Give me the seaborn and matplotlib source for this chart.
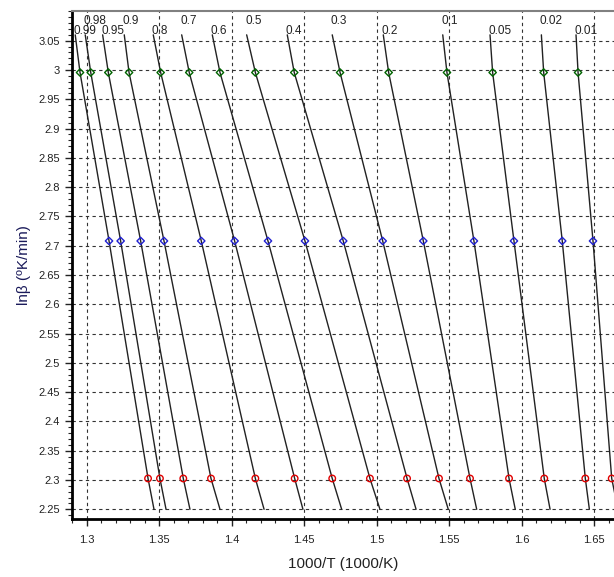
import numpy as np
import pandas as pd
import matplotlib
matplotlib.use('Agg')
import matplotlib.pyplot as plt
from matplotlib.ticker import MultipleLocator
import seaborn as sns

# Conversion levels (labels of the iso-conversion lines)
conversions = ['0.99', '0.98', '0.95', '0.9', '0.8', '0.7', '0.6', '0.5',
               '0.4', '0.3', '0.2', '0.1', '0.05', '0.02', '0.01']

# ln(beta) of the three heating rates (20, 15, 10 K/min)
ln_beta = [2.9957, 2.7081, 2.3026]

# 1000/T read at each heating rate
x_green = [1.2954, 1.3028, 1.3149, 1.3292, 1.3510, 1.3707, 1.3919, 1.4163,
           1.4431, 1.4747, 1.5082, 1.5484, 1.5799, 1.6151, 1.6388]
x_blue = [1.3154, 1.3234, 1.3372, 1.3533, 1.3790, 1.4020, 1.4250, 1.4505,
          1.4769, 1.5041, 1.5321, 1.5670, 1.5946, 1.6279, 1.6491]
x_red = [1.3423, 1.3505, 1.3666, 1.3857, 1.4163, 1.4434, 1.4693, 1.4953,
         1.5209, 1.5429, 1.5643, 1.5912, 1.6155, 1.6438, 1.6620]

# line ends (top at lnb=3.06, bottom at lnb=2.25)
y_top, y_bottom = 3.06, 2.25
x_top = [1.2921, 1.2990, 1.3110, 1.3259, 1.3459, 1.3655, 1.3866, 1.4103,
         1.4383, 1.4693, 1.5045, 1.5455, 1.5781, 1.6135, 1.6374]
x_bottom = [1.3464, 1.3547, 1.3712, 1.3919, 1.4223, 1.4491, 1.4758, 1.5022,
            1.5271, 1.5493, 1.5689, 1.5955, 1.6195, 1.6466, 1.6663]

# Tabela longa para as linhas
rows = []
for i, c in enumerate(conversions):
    xs = [x_top[i], x_green[i], x_blue[i], x_red[i], x_bottom[i]]
    ys = [y_top, ln_beta[0], ln_beta[1], ln_beta[2], y_bottom]
    for k, (xv, yv) in enumerate(zip(xs, ys)):
        rows.append({'conv': c, 'order': k, 'x': xv, 'y': yv})
df_lines = pd.DataFrame(rows)

sns.set_style('white')
plt.rcParams['font.family'] = ['Liberation Sans', 'DejaVu Sans']

fig = plt.figure(figsize=(6.14, 5.77), dpi=100)
ax = fig.add_axes([71.7 / 614, 57.7 / 577, (614 - 71.7) / 614, 508.3 / 577])

sns.lineplot(data=df_lines, x='x', y='y', units='conv', estimator=None,
             sort=False, color='#222222', lw=1.0, ax=ax, legend=False)

for xs, yv, col, mk in [(x_green, ln_beta[0], '#006400', 'D'),
                        (x_blue, ln_beta[1], '#2020d0', 'D'),
                        (x_red, ln_beta[2], '#e00000', 'o')]:
    sns.scatterplot(x=xs, y=[yv] * len(xs), marker=mk, s=14 if mk == 'D' else 22,
                    facecolor='none', edgecolor=col, linewidth=1.0, ax=ax, zorder=5)

# Rotulos das linhas
for i, c in enumerate(conversions):
    dy = 6 if i % 2 == 1 else -1.5
    ax.annotate(c, (x_top[i], y_top), xytext=(-1, dy), textcoords='offset points',
                ha='left', va='bottom', fontsize=8.5, color='#222222')

ax.set_xlim(1.28966, 1.66358)
ax.set_ylim(2.2329, 3.1007)
ax.xaxis.set_major_locator(MultipleLocator(0.05))
ax.xaxis.set_minor_locator(MultipleLocator(0.01))
ax.yaxis.set_major_locator(MultipleLocator(0.05))
ax.yaxis.set_minor_locator(MultipleLocator(0.01))
ax.set_xticks(np.arange(1.30, 1.651, 0.05))
ax.set_yticks(np.arange(2.25, 3.051, 0.05))
ax.set_xticklabels([f'{v:g}' for v in np.round(np.arange(1.30, 1.651, 0.05), 2)])
ax.set_yticklabels([f'{v:g}' for v in np.round(np.arange(2.25, 3.051, 0.05), 2)])

ax.grid(True, which='major', color='#333333', linestyle=(0, (3, 3)), lw=0.8)
ax.tick_params(which='major', direction='out', length=5, width=1, labelsize=8,
               colors='#222222', bottom=True, left=True)
ax.tick_params(which='minor', direction='out', length=3, width=0.8,
               bottom=True, left=True)
ax.tick_params(axis='x', pad=6)

for side in ['left', 'bottom']:
    ax.spines[side].set_color('black')
    ax.spines[side].set_linewidth(2)
ax.spines['top'].set_color('#808080')
ax.spines['top'].set_linewidth(1.5)
ax.spines['right'].set_visible(False)

ax.set_xlabel('1000/T (1000/K)', fontsize=11, color='#222222', labelpad=9)
ax.set_ylabel('lnβ (ºK/min)', fontsize=11, color='#1a1a5a', labelpad=5)

fig.savefig('out.png', dpi=100)
